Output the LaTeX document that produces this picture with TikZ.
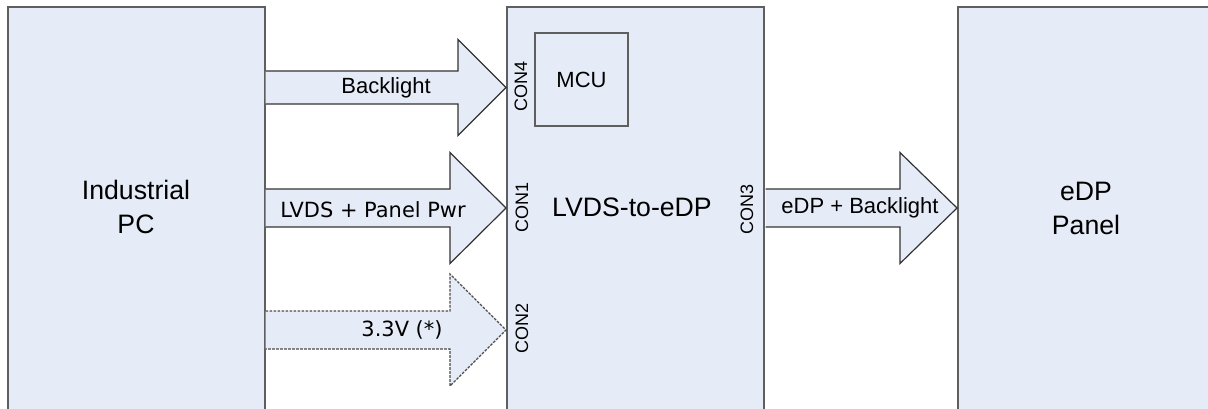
\documentclass[tikz,border=0pt]{standalone}
\usepackage{fontspec}
\setmainfont{Liberation Sans}
\newfontfamily\dejavu{DejaVu Sans}
\usetikzlibrary{calc}

\definecolor{boxfill}{RGB}{230,236,247}
\definecolor{boxline}{RGB}{95,95,95}

\tikzset{
  unit/.style={draw=boxline, fill=boxfill, line width=1.5pt, anchor=north west, inner sep=0pt,
    minimum width=192.75pt, minimum height=315pt},
  chip/.style={draw=boxline, fill=boxfill, line width=1pt, inner sep=0pt, minimum size=69.75pt,
    font=\fontsize{16.5}{19}\selectfont},
  bigtext/.style={inner sep=0.75pt, align=center, font=\fontsize{20}{25.5}\selectfont},
  flowtext/.style={inner sep=0.75pt, font=\fontsize{16.5}{19}\selectfont},
  context/.style={inner sep=0.75pt, rotate=90, font=\fontsize{13.5}{16}\selectfont},
  barrow/.style={draw=black!80, fill=boxfill, line width=0.9pt, line join=miter},
}

% #2 tail, #3 tip, #4 half shaft, #5 half head, #6 head length
\newcommand{\blockarrow}[6][]{%
  \draw[barrow,#1] ($(#2)+(0,-#4)$) -- ($(#2 -| #3)+(-#6,-#4)$) -- ($(#2 -| #3)+(-#6,-#5)$)
    -- (#2 -| #3) -- ($(#2 -| #3)+(-#6,#5)$) -- ($(#2 -| #3)+(-#6,#4)$) -- ($(#2)+(0,#4)$);}

\begin{document}
\begin{tikzpicture}[x=0.75pt,y=0.75pt,yscale=-1,xscale=1]
\clip (0,0) rectangle (1208,408);

%Shapes
\node (pc) [unit] at (7,6) {};
\node (conv) [unit] at (506,6) {};
\node (panel) [unit] at (957,6) {};
\node (mcu) [chip] at (581.5,79.5) {MCU};

%Connector ends
\coordinate (bl-out) at (265.5,87.5);
\coordinate (bl-in) at (506,87.5);
\coordinate (lvds-out) at (265.5,208);
\coordinate (lvds-in) at (506,208);
\coordinate (pwr-out) at (265.5,330);
\coordinate (pwr-in) at (506,330);
\coordinate (edp-out) at (765.5,208);
\coordinate (edp-in) at (957,208);

%Block Arrows
\blockarrow{bl-out}{bl-in}{16.5}{48}{48}
\blockarrow{lvds-out}{lvds-in}{19}{55.5}{56}
\blockarrow[dashed, dash pattern=on 2pt off 1pt, draw=black!70]{pwr-out}{pwr-in}{19}{56}{56}
\blockarrow{edp-out}{edp-in}{19}{55.5}{57}

% Text Node
\node (pc-label) [bigtext] at (136,207) {Industrial\\PC};
\node (conv-label) [bigtext] at (632,207) {LVDS-to-eDP};
\node (panel-label) [bigtext] at (1086,208) {eDP\\Panel};

\node (bl-label) [flowtext] at (386,88) {Backlight};
\node (lvds-label) [flowtext, font=\dejavu\fontsize{15.7}{19}\selectfont] at (373,210) {LVDS + Panel Pwr};
\node (pwr-label) [flowtext, font=\dejavu\fontsize{15.7}{19}\selectfont] at (402,330) {3.3V (*)};
\node (edp-label) [flowtext] at (860,208) {eDP + Backlight};

\node (con4) [context] at (521,86) {CON4};
\node (con1) [context] at (522,207) {CON1};
\node (con2) [context] at (522,328) {CON2};
\node (con3) [context] at (747,209) {CON3};

\end{tikzpicture}
\end{document}
